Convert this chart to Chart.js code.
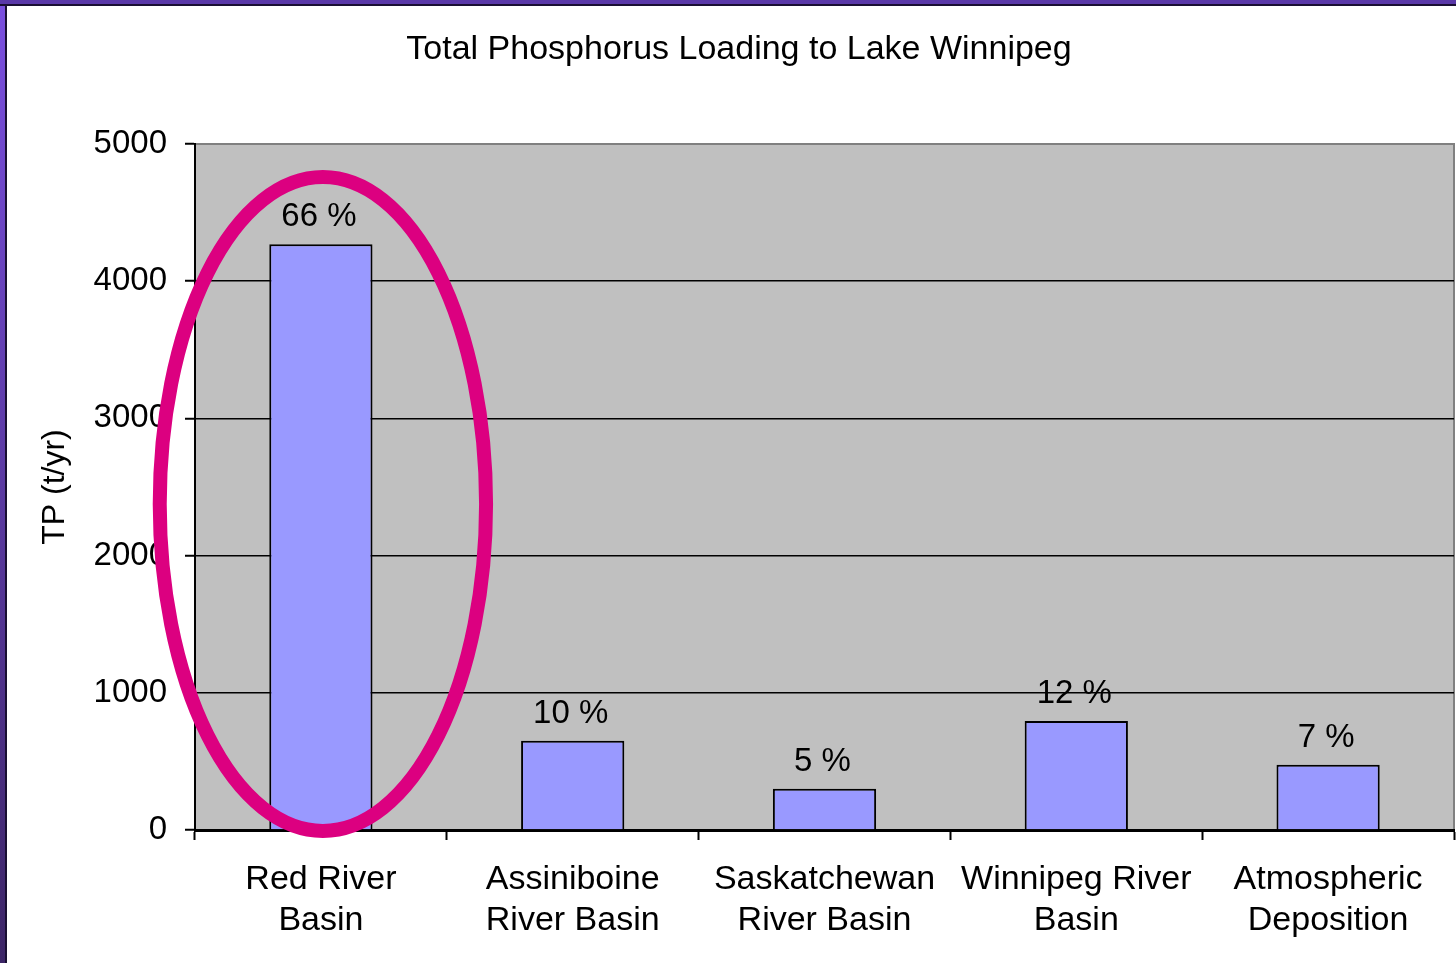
<!DOCTYPE html>
<html>
<head>
<meta charset="utf-8">
<script src="https://cdn.jsdelivr.net/npm/chart.js@4.4.0/dist/chart.umd.min.js"></script>
<style>
  html, body { margin: 0; padding: 0; background: #fff; }
  #wrap { position: relative; width: 1456px; height: 963px; overflow: hidden; }
  #frameLeft { position: absolute; left: 0; top: 0; width: 5px; height: 963px;
    background: linear-gradient(#7a4fe0, #3c2566); border-right: 2px solid #1a0f33; }
  #frameTop { position: absolute; left: 0; top: 0; width: 1456px; height: 4px;
    background: #5a38a8; border-bottom: 2px solid #1a0f33; }
  canvas { position: absolute; left: 0; top: 0; }
</style>
</head>
<body>
<div id="wrap">
  <canvas id="chart" width="1456" height="963"></canvas>
  <div id="frameLeft"></div>
  <div id="frameTop"></div>
</div>
<script>
// Datos del gráfico
const categories = [
  ['Red River', 'Basin'],
  ['Assiniboine', 'River Basin'],
  ['Saskatchewan', 'River Basin'],
  ['Winnipeg River', 'Basin'],
  ['Atmospheric', 'Deposition']
];
const loading = [4270, 650, 300, 795, 475];
const percentLabels = ['66 %', '10 %', '5 %', '12 %', '7 %'];
const yTicks = [0, 1000, 2000, 3000, 4000, 5000];

const FONT = 'Arial, "Liberation Sans", sans-serif';

// Fondo gris y borde del área de trazado
const plotAreaPlugin = {
  id: 'plotArea',
  beforeDraw(chart) {
    const { ctx, chartArea: a } = chart;
    ctx.save();
    ctx.fillStyle = '#c0c0c0';
    ctx.fillRect(a.left, a.top, a.right - a.left, a.bottom - a.top);
    ctx.strokeStyle = '#808080';
    ctx.lineWidth = 2;
    ctx.beginPath();
    ctx.moveTo(a.left, a.top);
    ctx.lineTo(a.right, a.top);
    ctx.lineTo(a.right, a.bottom);
    ctx.stroke();
    ctx.restore();
  }
};

// Etiquetas de porcentaje sobre cada barra
const percentPlugin = {
  id: 'percentLabels',
  afterDatasetsDraw(chart) {
    const { ctx } = chart;
    const meta = chart.getDatasetMeta(0);
    ctx.save();
    ctx.font = '33px ' + FONT;
    ctx.fillStyle = '#000';
    ctx.textAlign = 'center';
    ctx.textBaseline = 'alphabetic';
    meta.data.forEach((bar, i) => {
      ctx.fillText(percentLabels[i], bar.x - 2, bar.y - 18);
    });
    ctx.restore();
  }
};

// Elipse magenta alrededor de la primera barra
const highlightPlugin = {
  id: 'highlight',
  afterDraw(chart) {
    const { ctx, scales: { x, y } } = chart;
    const cx = x.getPixelForValue(0) + 2;
    const cy = y.getPixelForValue(2376);
    const rx = (x.getPixelForValue(1) - x.getPixelForValue(0)) * 0.648;
    const ry = (y.getPixelForValue(0) - y.getPixelForValue(2383));
    ctx.save();
    ctx.strokeStyle = '#dc0080';
    ctx.lineWidth = 14;
    ctx.beginPath();
    ctx.ellipse(cx, cy, rx, ry, 0, 0, Math.PI * 2);
    ctx.stroke();
    ctx.restore();
  }
};

new Chart(document.getElementById('chart'), {
  type: 'bar',
  data: {
    labels: categories,
    datasets: [{
      data: loading,
      backgroundColor: '#9999ff',
      borderColor: '#000',
      borderWidth: 2,
      barPercentage: 0.41,
      categoryPercentage: 1
    }]
  },
  options: {
    responsive: false,
    animation: false,
    layout: { padding: { top: 0, left: 24, right: 2, bottom: 0 } },
    plugins: {
      legend: { display: false },
      tooltip: { enabled: false },
      title: {
        display: true,
        text: 'Total Phosphorus Loading to Lake Winnipeg',
        color: '#000',
        font: { family: FONT, size: 34, weight: 'normal', lineHeight: 1.2 },
        padding: { top: 29, bottom: 74.2 }
      }
    },
    scales: {
      x: {
        grid: { display: true, drawOnChartArea: false, drawTicks: true, tickLength: 10, tickColor: '#000', tickWidth: 2 },
        border: { color: '#000', width: 3 },
        ticks: {
          color: '#000',
          font: { family: FONT, size: 34, lineHeight: 1.2 },
          padding: 19,
          maxRotation: 0,
          autoSkip: false
        },
        afterFit(scale) { scale.height = 133; }
      },
      y: {
        min: 0,
        max: 5000,
        afterBuildTicks(scale) { scale.ticks = yTicks.map(v => ({ value: v })); },
        grid: {
          color: (c) => c.tick && (c.tick.value === 5000 || c.tick.value === 0) ? 'rgba(0,0,0,0)' : '#000',
          lineWidth: 1.5,
          tickLength: 10,
          tickColor: '#000',
          tickWidth: 2
        },
        border: { color: '#000', width: 2 },
        ticks: {
          color: '#000',
          font: { family: FONT, size: 33 },
          padding: 18,
          callback: (v) => String(v)
        },
        title: {
          display: true,
          text: 'TP (t/yr)',
          color: '#000',
          font: { family: FONT, size: 32, lineHeight: 1.2 },
          padding: { top: 12, bottom: 0 }
        },
        afterFit(scale) { scale.width = 171; }
      }
    }
  },
  plugins: [plotAreaPlugin, percentPlugin, highlightPlugin]
});
</script>
</body>
</html>
